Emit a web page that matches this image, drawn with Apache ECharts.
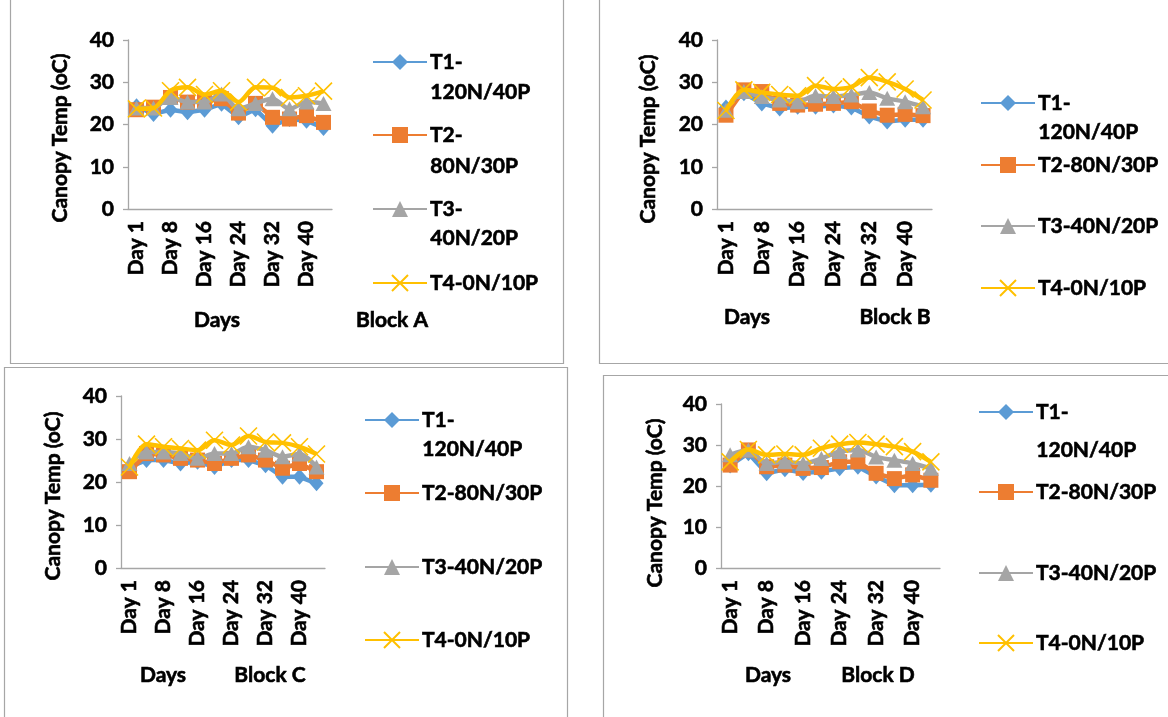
<!DOCTYPE html>
<html>
<head>
<meta charset="utf-8">
<script src="https://cdn.jsdelivr.net/npm/echarts@6/dist/echarts.min.js"></script>
<style>
html,body{margin:0;padding:0;background:#fff;}
#chart{width:1168px;height:717px;}
</style>
</head>
<body>
<div id="chart"></div>
<script>
// ---- data ----
const categories = ['Day 1','Day 4','Day 8','Day 12','Day 16','Day 20','Day 24','Day 28','Day 32','Day 36','Day 40','Day 44'];
const seriesNames = ['T1-120N/40P','T2-80N/30P','T3-40N/20P','T4-0N/10P'];
const yTicks = [0, 10, 20, 30, 40];

const blockA_T1 = [24.3,22.5,23.5,22.9,23.5,24.9,21.7,23.6,19.7,21.3,20.9,19.2];
const blockA_T2 = [23.5,24.1,26.4,25.3,25.5,26.1,22.7,25.0,21.7,21.3,22.1,20.5];
const blockA_T3 = [23.9,23.9,26.4,25.3,25.3,27.2,23.7,25.0,26.1,23.7,25.3,25.0];
const blockA_T4 = [23.7,23.9,28.0,28.8,27.1,28.0,25.3,28.8,28.7,26.4,26.8,27.9];

const blockB_T1 = [24.0,27.4,25.0,23.8,24.2,24.2,24.5,24.0,21.9,20.7,21.1,21.1];
const blockB_T2 = [22.2,28.2,27.8,25.0,24.6,24.8,25.0,25.4,23.2,22.2,22.4,22.1];
const blockB_T3 = [23.4,27.8,26.6,25.8,25.4,26.8,26.6,27.0,27.6,26.2,25.4,24.2];
const blockB_T4 = [23.3,28.2,27.6,27.1,26.8,29.2,28.4,28.9,31.1,30.1,28.4,25.8];

const blockC_T1 = [23.5,25.1,25.1,24.3,24.7,23.5,25.1,25.1,23.9,21.2,21.2,19.7];
const blockC_T2 = [22.4,26.6,26.3,25.5,25.1,24.3,25.5,26.3,25.1,23.2,24.3,22.4];
const blockC_T3 = [24.3,27.0,27.0,26.6,25.5,26.6,26.6,28.2,27.4,25.9,26.5,23.5];
const blockC_T4 = [23.5,28.8,28.2,27.8,27.4,29.7,28.6,30.7,29.3,29.1,28.2,26.5];

const blockD_T1 = [25.0,28.0,23.1,24.1,23.2,23.5,24.3,24.7,22.3,20.2,20.2,20.3];
const blockD_T2 = [25.1,28.8,24.7,25.1,24.3,24.5,25.9,25.9,23.1,21.8,22.7,21.4];
const blockD_T3 = [27.6,28.8,25.5,25.9,25.5,26.7,28.4,28.8,27.1,26.3,25.5,24.3];
const blockD_T4 = [25.9,28.9,27.6,27.8,27.6,29.2,30.2,30.6,30.2,29.6,28.4,25.9];

const blockTitles = ['Block A','Block B','Block C','Block D'];

// ---- styling / layout ----
const FONT = 'Lato';
const WEIGHT = 'bold';
const FS = 21;
const colors = ['#5B9BD5','#ED7D31','#A5A5A5','#FFC000'];
const symbols = ['diamond','rect','triangle','path://M0,0L10,10M10,0L0,10'];
const symbolSizes = [[14,16],15,[16,15],17];

const panels = [
  {data:[blockA_T1,blockA_T2,blockA_T3,blockA_T4], grid:{left:128,top:40,width:204,height:169},
   frame:[10.5,-5,553,368.5], ytitle:[60,138], days:[217,320], block:[392,320],
   legX:372, leg:[[62,'T1-','120N/40P',92],[135,'T2-','80N/30P',166],[209,'T3-','40N/20P',238],[283,'T4-0N/10P',null,null]]},
  {data:[blockB_T1,blockB_T2,blockB_T3,blockB_T4], grid:{left:717,top:40,width:215,height:169},
   frame:[599.5,-5,580,368.5], ytitle:[648,139], days:[747,317], block:[895,317],
   legX:980, leg:[[103,'T1-','120N/40P',132],[165,'T2-80N/30P',null,null],[226,'T3-40N/20P',null,null],[288,'T4-0N/10P',null,null]]},
  {data:[blockC_T1,blockC_T2,blockC_T3,blockC_T4], grid:{left:121,top:396,width:204,height:172},
   frame:[4.5,367.5,563,360], ytitle:[53,496], days:[163,675], block:[270,675],
   legX:364, leg:[[420,'T1-','120N/40P',449],[493,'T2-80N/30P',null,null],[567,'T3-40N/20P',null,null],[640,'T4-0N/10P',null,null]]},
  {data:[blockD_T1,blockD_T2,blockD_T3,blockD_T4], grid:{left:721,top:404,width:219,height:164},
   frame:[603.5,375.5,580,360], ytitle:[655,503], days:[768,675], block:[878,675],
   legX:978, leg:[[412,'T1-','120N/40P',450],[492,'T2-80N/30P',null,null],[573,'T3-40N/20P',null,null],[643,'T4-0N/10P',null,null]]}
];

const textBase = {fontFamily: FONT, fontWeight: WEIGHT, fontSize: FS, color: '#000',
                  textBorderColor:'#000', textBorderWidth:0.6};
const fontStr = WEIGHT + ' ' + FS + 'px ' + FONT;
const gText = (extra) => Object.assign({font:fontStr, fill:'#000', stroke:'#000', lineWidth:0.6}, extra);

const option = {
  animation: false,
  backgroundColor: '#fff',
  grid: [], xAxis: [], yAxis: [], series: [], legend: [], graphic: []
};

panels.forEach((p, pi) => {
  option.graphic.push({type:'rect', shape:{x:p.frame[0], y:p.frame[1], width:p.frame[2], height:p.frame[3]},
    style:{fill:'none', stroke:'#A6A6A6', lineWidth:1.2}, z:-10, silent:true});
  option.grid.push(Object.assign({}, p.grid));
  option.xAxis.push({
    type:'category', gridIndex:pi, data:categories, boundaryGap:true,
    axisLine:{lineStyle:{color:'#A6A6A6', width:1.3}},
    axisTick:{show:false},
    axisLabel:Object.assign({interval:1, rotate:90, margin:12}, textBase),
    splitLine:{show:false}
  });
  option.yAxis.push({
    type:'value', gridIndex:pi, min:yTicks[0], max:yTicks[yTicks.length-1], interval:yTicks[1]-yTicks[0],
    axisLine:{show:true, lineStyle:{color:'#A6A6A6', width:1.3}},
    axisTick:{show:true, length:5, lineStyle:{color:'#A6A6A6', width:1.3}},
    axisLabel:Object.assign({margin:14}, textBase),
    splitLine:{show:false}
  });
  seriesNames.forEach((nm, si) => {
    option.series.push({
      type:'line', name:nm, xAxisIndex:pi, yAxisIndex:pi, data:p.data[si],
      smooth: si >= 2 ? 0.3 : false,
      symbol:symbols[si], symbolSize:symbolSizes[si], showSymbol:true, showAllSymbol:true,
      lineStyle:{color:colors[si], width: 4.5},
      itemStyle: si===3 ? {color:colors[si], borderColor:colors[si], borderWidth:1.6}
                        : {color:colors[si], borderWidth:0},
      z: 2 + si
    });
  });
  p.leg.forEach((lg, li) => {
    const label = lg[1];
    option.legend.push({
      data:[seriesNames[li]], left:p.legX, top:lg[0]-14, padding:0,
      orient:'vertical', itemWidth:54, itemHeight:20, itemGap:0,
      selectedMode:false,
      formatter: () => label,
      textStyle:Object.assign({lineHeight:28, padding:[0,0,0,-2]}, textBase)
    });
    if (lg[2]) {
      option.graphic.push({type:'text', left:p.legX+58, top:lg[3]-14,
        style:gText({text:lg[2], lineHeight:28}), silent:true});
    }
  });
  option.graphic.push({type:'text', x:p.ytitle[0], y:p.ytitle[1], rotation:Math.PI/2,
    style:gText({text:'Canopy Temp (oC)', align:'center', verticalAlign:'middle'}), silent:true});
  option.graphic.push({type:'text', x:p.days[0], y:p.days[1],
    style:gText({text:'Days', align:'center', verticalAlign:'middle'}), silent:true});
  option.graphic.push({type:'text', x:p.block[0], y:p.block[1],
    style:gText({text:blockTitles[pi], align:'center', verticalAlign:'middle'}), silent:true});
});

const chart = echarts.init(document.getElementById('chart'), null, {renderer:'canvas'});
chart.setOption(option);
</script>
</body>
</html>
